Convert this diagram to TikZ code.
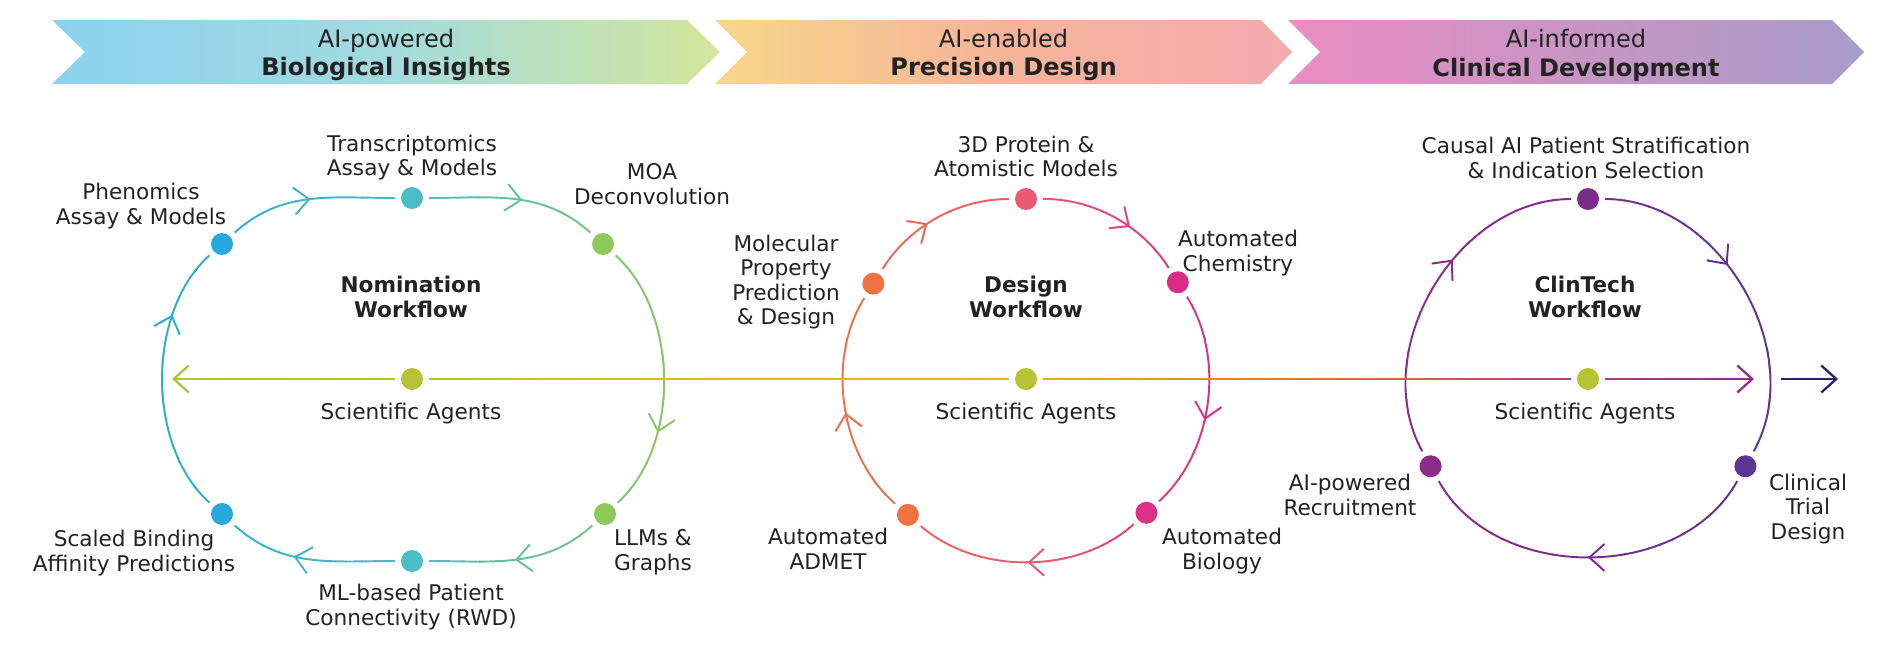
\documentclass[tikz,border=0pt]{standalone}
\usepackage{fontspec}
\setmainfont{DejaVu Sans}
\usepackage{tikz}
\usetikzlibrary{calc,arrows.meta,decorations.markings}

% colours
\definecolor{ink}{HTML}{222222}
\definecolor{nomL}{HTML}{27A9DB}
\definecolor{nomM}{HTML}{4BBDC4}
\definecolor{nomR}{HTML}{8CC85A}
\definecolor{desL}{HTML}{EF7340}
\definecolor{desM}{HTML}{EB5A72}
\definecolor{desR}{HTML}{DA2B88}
\definecolor{cliL}{HTML}{8E2A88}
\definecolor{cliM}{HTML}{7B2D8B}
\definecolor{cliR}{HTML}{5B3592}
\definecolor{agent}{HTML}{B5C334}
\definecolor{hA}{HTML}{A6C63E}
\definecolor{hB}{HTML}{B8C22E}
\definecolor{hC}{HTML}{DCBB22}
\definecolor{hD}{HTML}{E8B220}
\definecolor{hE}{HTML}{CC7242}
\definecolor{hF}{HTML}{A84478}
\definecolor{hG}{HTML}{8E2D90}
\definecolor{navy}{HTML}{23236B}
\definecolor{bAL}{HTML}{8DD1EF}
\definecolor{bAM}{HTML}{A2DBE0}
\definecolor{bAR}{HTML}{D3E69B}
\definecolor{bBL}{HTML}{F8D68B}
\definecolor{bBM}{HTML}{F5B499}
\definecolor{bBR}{HTML}{F3ABB0}
\definecolor{bCL}{HTML}{EA8CC4}
\definecolor{bCM}{HTML}{C895C3}
\definecolor{bCR}{HTML}{A99CCA}

% stroke in vertical strips, colour blended from #3 to #4
\newcommand{\gradclip}[5]{%
  \foreach \k in {1,...,16}{%
    \pgfmathsetmacro{\xa}{#1+(#2-#1)*(\k-1)/16}%
    \pgfmathsetmacro{\xb}{#1+(#2-#1)*\k/16+0.02}%
    \pgfmathtruncatemacro{\pc}{100*(\k-0.5)/16}%
    \colorlet{gc}{#4!\pc!#3}%
    \begin{scope}
      \clip (\xa,-5.4) rectangle (\xb,7.58);
      #5
    \end{scope}}}

% the three loops and the agents line
\newcommand{\nomloop}{%
  \draw[flow=0.5] (phe) to[out=42,in=180] (tra);
  \draw[flow=0.55] (tra) to[out=0,in=138] (moa);
  \draw[flow=0.7] (moa) to[out=-42,in=42,looseness=0.88] (llm);
  \draw[flow=0.5] (llm) to[out=-138,in=0] (mlp);
  \draw[flow=0.6] (mlp) to[out=180,in=-42] (sba);
  \draw[flow=0.74] (sba) to[out=138,in=-138,looseness=0.88] (phe);
}
\newcommand{\desloop}{%
  \draw[flow=0.43] (mol) to[bend left=29,looseness=0.9] (pro);
  \draw[flow=0.62] (pro) to[bend left=29,looseness=0.9] (chm);
  \draw[flow=0.575] (chm) to[bend left=40,looseness=0.9] (bio);
  \draw[flow=0.5] (bio) to[bend left=41.5,looseness=0.9] (adm);
  \draw[flow=0.47] (adm) to[bend left=40.5,looseness=0.9] (mol);
}
\newcommand{\cliloop}{%
  \draw[flow=0.42] (cau) to[bend left=59.5,looseness=1.0] (tri);
  \draw[flow=0.5] (tri) to[bend left=61,looseness=1.0] (rec);
  \draw[flow=0.6] (rec) to[bend left=59.5,looseness=1.0] (cau);
}
\newcommand{\agentline}{%
  \draw[hline,<-] (lend) -- (san);
  \draw[hline] (san) -- (sad);
  \draw[hline] (sad) -- (sac);
  \draw[hline,->] (sac) -- (rend);
}

\begin{document}
\begin{tikzpicture}
    % Styles for dots, labels and lines
    \tikzset{
      wdot/.style={circle, fill=#1, minimum size=0.44cm, inner sep=0pt, outer sep=0.12cm},
      lbl/.style={text=ink, align=center, inner sep=0pt, font=\fontsize{12.3}{14}\selectfont},
      wftitle/.style={text=ink, align=center, inner sep=0pt, font=\fontsize{12.3}{14.2}\selectfont\bfseries},
      bantext/.style={text=ink, align=center, inner sep=0pt, font=\fontsize{13.7}{16.4}\selectfont},
      flow/.style={draw=gc, line width=1.1pt, postaction={decorate},
        decoration={markings, mark=at position #1 with {\arrow{>}}}},
      hline/.style={draw=gc, line width=1.3pt},
      >={Straight Barb[length=0.3cm,width=0.54cm]}
    }
    \useasboundingbox (0,-5.4) rectangle (38.06,7.58);

    % Banners
    \path[left color=bAL, right color=bAR, middle color=bAM]
      (1.04,7.18) -- (13.74,7.18) -- (14.4,6.54) -- (13.74,5.9) -- (1.04,5.9) -- (1.7,6.54) -- cycle;
    \path[left color=bBL, right color=bBR, middle color=bBM]
      (14.3,7.18) -- (25.22,7.18) -- (25.84,6.54) -- (25.22,5.9) -- (14.3,5.9) -- (14.94,6.54) -- cycle;
    \path[left color=bCL, right color=bCR, middle color=bCM]
      (25.76,7.18) -- (36.64,7.18) -- (37.28,6.54) -- (36.64,5.9) -- (25.76,5.9) -- (26.4,6.54) -- cycle;
    \node[bantext] (ban1) at (7.72,6.48) {AI-powered\\\textbf{Biological Insights}};
    \node[bantext] (ban2) at (20.07,6.48) {AI-enabled\\\textbf{Precision Design}};
    \node[bantext] (ban3) at (31.52,6.48) {AI-informed\\\textbf{Clinical Development}};

    % Centres of the loops
    \coordinate (dc) at (20.52,0);
    \coordinate (cc) at (31.76,0);

    % Nomination dots
    \node[wdot=nomL] (phe) at (4.44,2.7) {};
    \node[wdot=nomM] (tra) at (8.24,3.62) {};
    \node[wdot=nomR] (moa) at (12.06,2.7) {};
    \node[wdot=nomR] (llm) at (12.1,-2.7) {};
    \node[wdot=nomM] (mlp) at (8.24,-3.64) {};
    \node[wdot=nomL] (sba) at (4.44,-2.7) {};

    % Design dots
    \node[wdot=desM] (pro) at ($(dc)+(90:3.6)$) {};
    \node[wdot=desL] (mol) at ($(dc)+(148:3.6)$) {};
    \node[wdot=desR] (chm) at ($(dc)+(32.5:3.6)$) {};
    \node[wdot=desR!85!desM] (bio) at ($(dc)+(-48:3.6)$) {};
    \node[wdot=desL] (adm) at ($(dc)+(229:3.6)$) {};

    % ClinTech dots
    \node[wdot=cliM] (cau) at ($(cc)+(90:3.6)$) {};
    \node[wdot=cliR] (tri) at ($(cc)+(-29:3.6)$) {};
    \node[wdot=cliL] (rec) at ($(cc)+(209:3.6)$) {};

    % Scientific agents
    \node[wdot=agent] (san) at (8.24,0) {};
    \node[wdot=agent] (sad) at (dc) {};
    \node[wdot=agent] (sac) at (cc) {};
    \coordinate (lend) at (3.44,0);
    \coordinate (rend) at (35.08,0);
    \coordinate (nstart) at (35.62,0);
    \coordinate (nend) at (36.76,0);

    % Loops
    \gradclip{2.9}{8.24}{nomL}{nomM}{\nomloop}
    \gradclip{8.24}{13.6}{nomM}{nomR}{\nomloop}
    \gradclip{16.4}{20.52}{desL}{desM}{\desloop}
    \gradclip{20.52}{24.6}{desM}{desR}{\desloop}
    \gradclip{27.9}{31.76}{cliL}{cliM}{\cliloop}
    \gradclip{31.76}{35.6}{cliM}{cliR}{\cliloop}

    % Agents line
    \gradclip{3.3}{8.24}{hA}{hB}{\agentline}
    \gradclip{8.24}{14}{hB}{hC}{\agentline}
    \gradclip{14}{20.52}{hC}{hD}{\agentline}
    \gradclip{20.52}{27}{hD}{hE}{\agentline}
    \gradclip{27}{31.76}{hE}{hF}{\agentline}
    \gradclip{31.76}{35.2}{hF}{hG}{\agentline}
    \draw[line width=1.3pt, draw=navy, ->] (nstart) -- (nend);

    % Labels
    \node[lbl] (phel) at (2.82,3.46) {Phenomics\\Assay \& Models};
    \node[lbl] (tral) at (8.24,4.43) {Transcriptomics\\Assay \& Models};
    \node[lbl] (moal) at (13.04,3.9) {MOA\\Deconvolution};
    \node[wftitle] (nomt) at (8.22,1.64) {Nomination\\Workflow};
    \node[lbl] (sanl) at (8.22,-0.7) {Scientific Agents};
    \node[lbl] (sbal) at (2.68,-3.48) {Scaled Binding\\Affinity Predictions};
    \node[lbl] (mlpl) at (8.22,-4.56) {ML-based Patient\\Connectivity (RWD)};
    \node[lbl] (llml) at (13.06,-3.46) {LLMs \&\\Graphs};

    \node[lbl] (prol) at (20.52,4.45) {3D Protein \&\\Atomistic Models};
    \node[lbl] (moll) at (15.72,1.94) {Molecular\\Property\\Prediction\\\& Design};
    \node[lbl] (chml) at (24.76,2.52) {Automated\\Chemistry};
    \node[wftitle] (dest) at (20.52,1.64) {Design\\Workflow};
    \node[lbl] (sadl) at (20.52,-0.7) {Scientific Agents};
    \node[lbl] (adml) at (16.56,-3.4) {Automated\\ADMET};
    \node[lbl] (biol) at (24.44,-3.44) {Automated\\Biology};

    \node[lbl] (caul) at (31.72,4.42) {Causal AI Patient Stratification\\\& Indication Selection};
    \node[wftitle] (clit) at (31.7,1.64) {ClinTech\\Workflow};
    \node[lbl] (sacl) at (31.7,-0.7) {Scientific Agents};
    \node[lbl] (recl) at (27.0,-2.32) {AI-powered\\Recruitment};
    \node[lbl] (tril) at (36.16,-2.6) {Clinical\\Trial\\Design};

\end{tikzpicture}
\end{document}
